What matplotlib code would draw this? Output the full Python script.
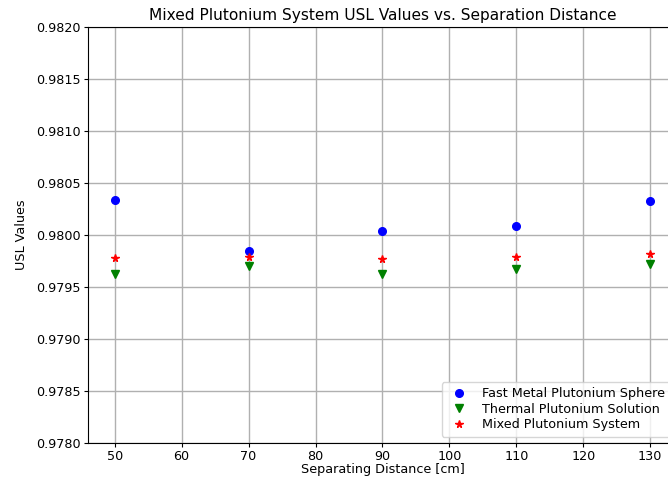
import matplotlib
matplotlib.use("Agg")
import matplotlib.pyplot as plt
from matplotlib.ticker import FormatStrFormatter

plt.rcParams['font.size'] = 9.2

# 数据
distance = [50, 70, 90, 110, 130]
fast_metal = [0.98034, 0.97985, 0.98004, 0.98009, 0.98033]
thermal = [0.97962, 0.97970, 0.97962, 0.97967, 0.97972]
mixed = [0.97978, 0.97979, 0.97977, 0.97979, 0.97982]

fig = plt.figure(figsize=(6.68, 4.79), dpi=100)
# 右侧超出画布（原图被裁切）
ax = fig.add_axes([0.1317, 0.0752, 0.8817, 0.8685])

ax.plot(distance, fast_metal, 'bo', markersize=5.5, label="Fast Metal Plutonium Sphere")
ax.plot(distance, thermal, 'gv', markersize=5.5, label="Thermal Plutonium Solution")
ax.plot(distance, mixed, 'r*', markersize=5.5, label="Mixed Plutonium System")

ax.set_xlim(46, 134)
ax.set_ylim(0.9780, 0.9820)
ax.set_xticks([50, 60, 70, 80, 90, 100, 110, 120, 130])
ax.set_yticks([0.9780 + 0.0005 * i for i in range(9)])
ax.yaxis.set_major_formatter(FormatStrFormatter('%.4f'))
ax.tick_params(length=3, pad=2)
ax.grid(True, color='#b0b0b0', linewidth=1)
ax.set_axisbelow(True)

ax.set_title("Mixed Plutonium System USL Values vs. Separation Distance", pad=5)
ax.set_xlabel("Separating Distance [cm]", labelpad=0)
ax.set_ylabel("USL Values", labelpad=6)
ax.legend(loc='lower right', labelspacing=0.2)

fig.savefig("out.png", dpi=100)
